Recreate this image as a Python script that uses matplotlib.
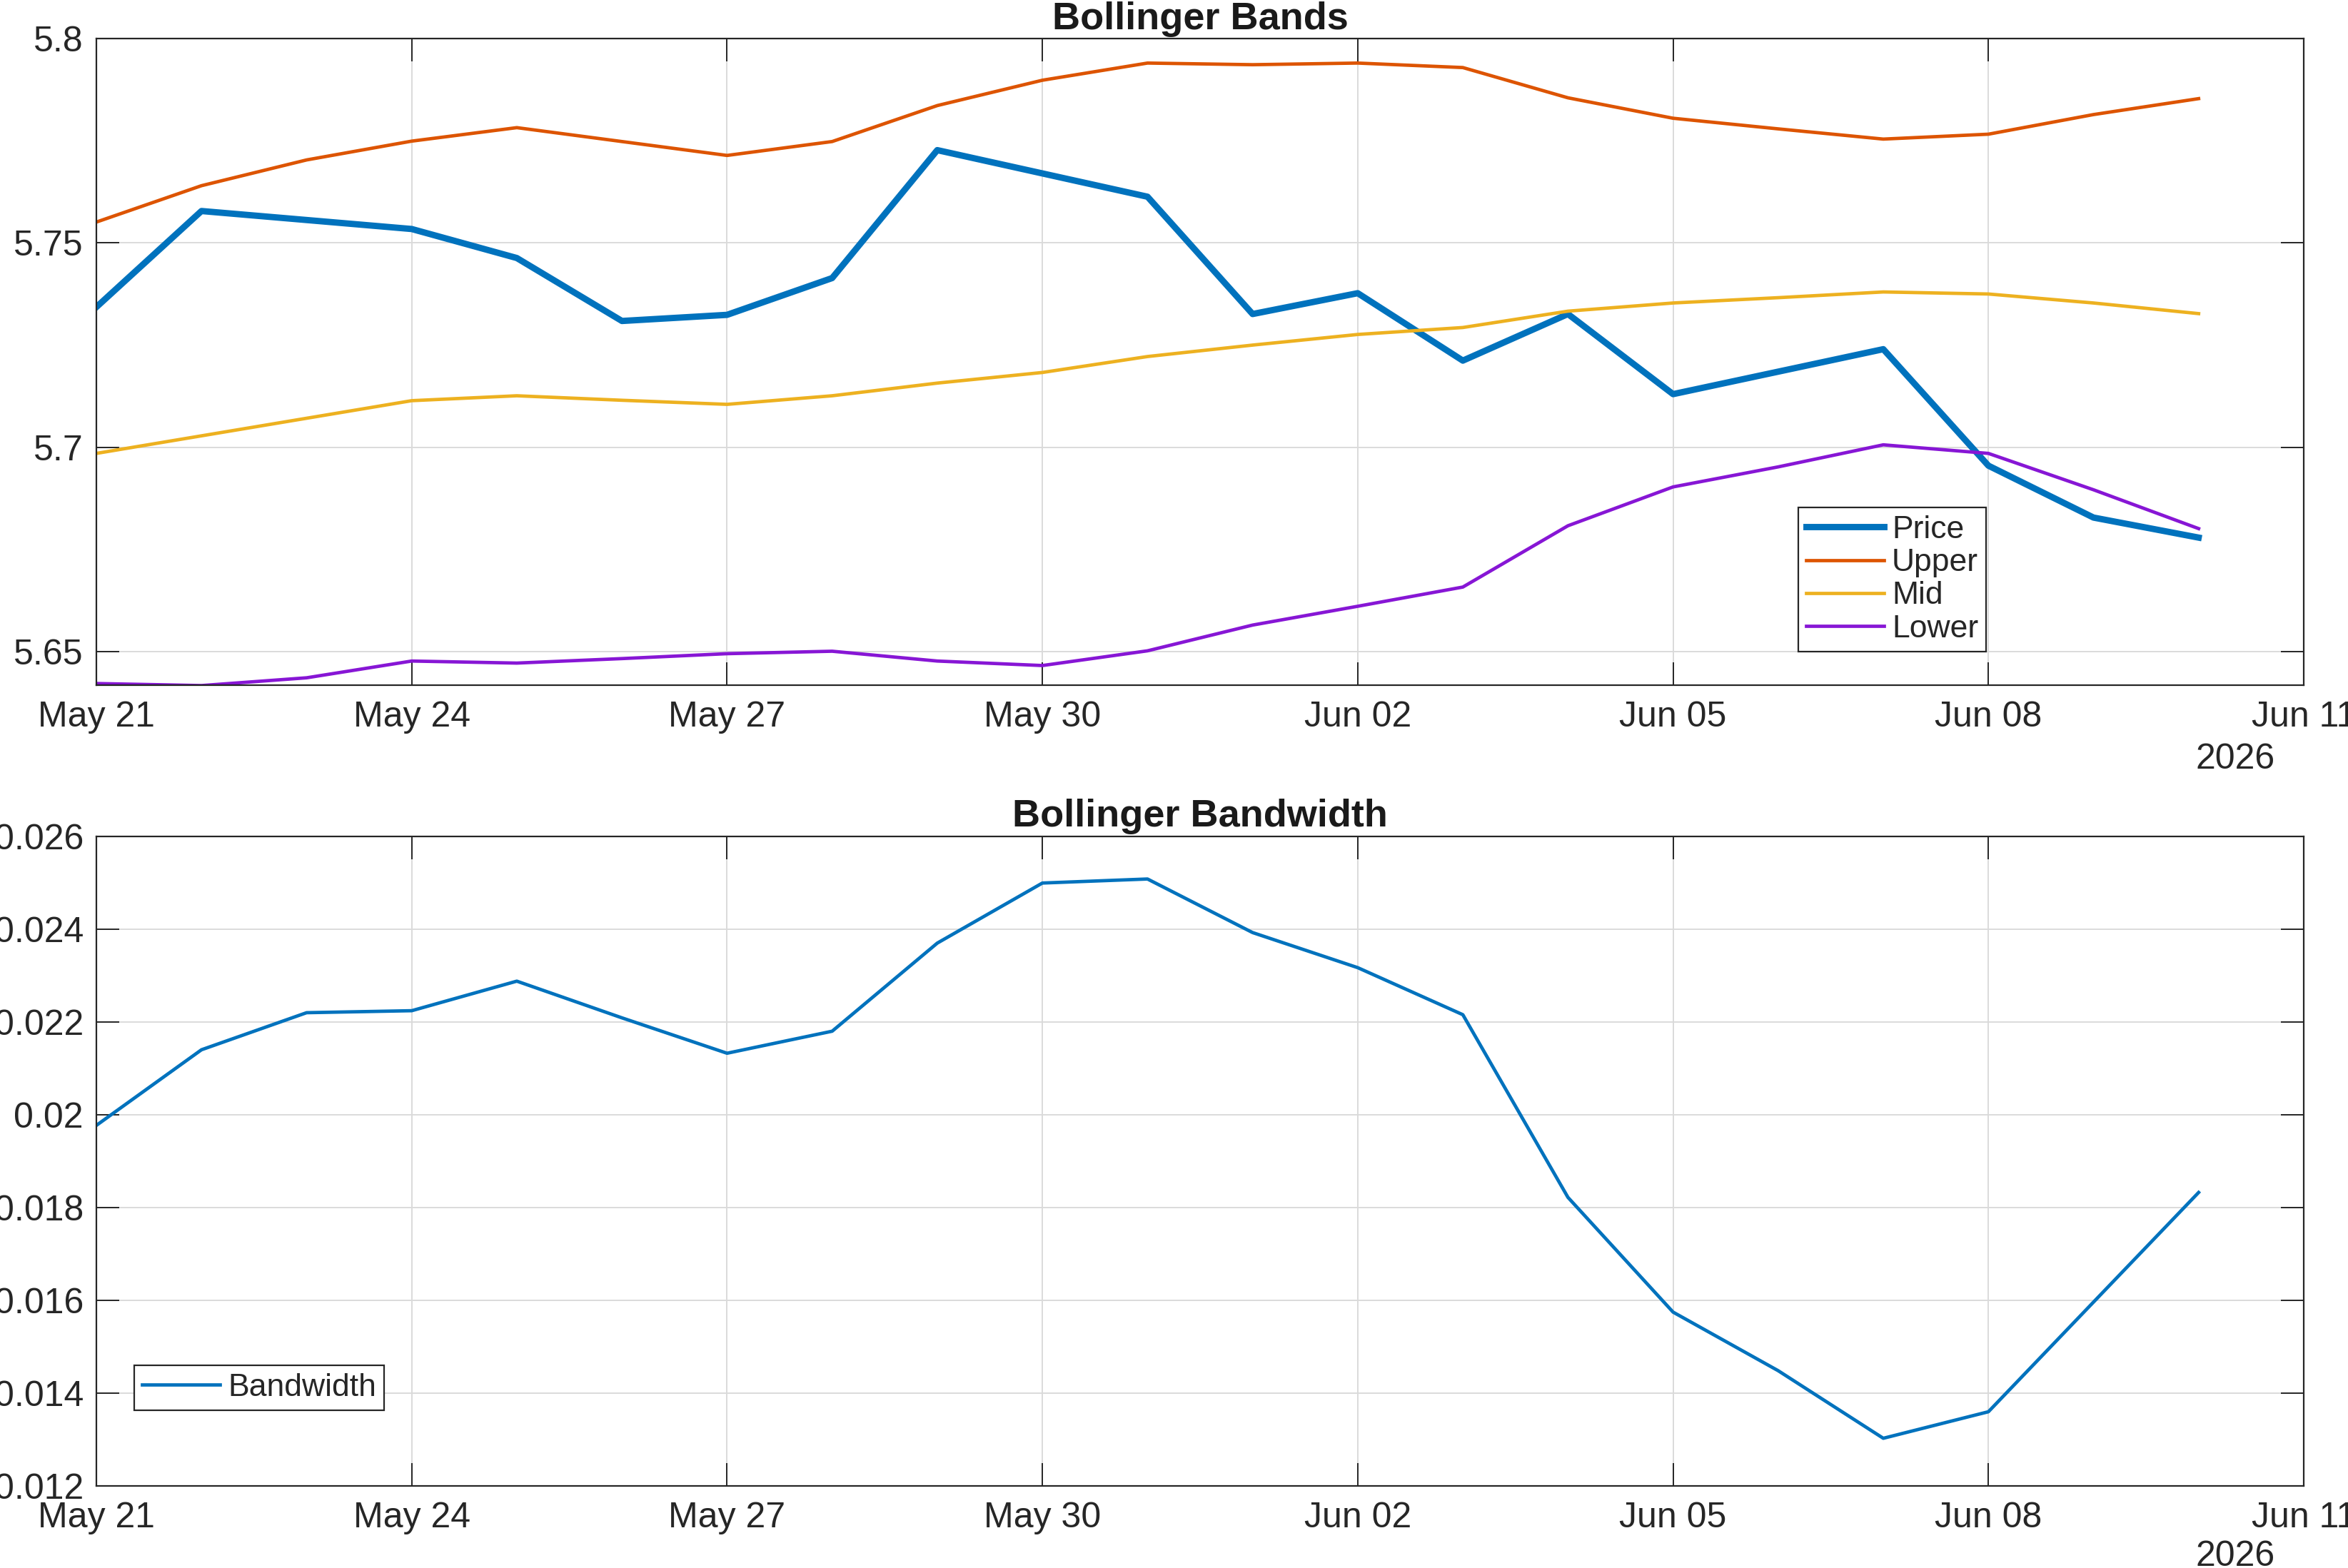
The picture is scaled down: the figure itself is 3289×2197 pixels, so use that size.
import matplotlib
matplotlib.use('Agg')
import matplotlib.pyplot as plt
import matplotlib.dates as mdates
from matplotlib.ticker import FormatStrFormatter
import numpy as np
import pandas as pd

plt.rcParams['font.family'] = ['Liberation Sans', 'DejaVu Sans']

dates = pd.date_range('2026-05-21', '2026-06-10', freq='D')

price = [5.7343, 5.7578, 5.7556, 5.7534, 5.7463, 5.7309, 5.7324, 5.7414, 5.7727, 5.7670, 5.7613,
         5.7326, 5.7377, 5.7212, 5.7326, 5.7130, 5.7185, 5.7240, 5.6955, 5.6828, 5.6779]
upper = [5.7551, 5.7640, 5.7703, 5.7749, 5.7782, 5.7748, 5.7714, 5.7748, 5.7836, 5.7898, 5.7940,
         5.7936, 5.7940, 5.7929, 5.7855, 5.7805, 5.7779, 5.7754, 5.7766, 5.7814, 5.7853]
mid = [5.6985, 5.7028, 5.7071, 5.7114, 5.7126, 5.7115, 5.7105, 5.7126, 5.7157, 5.7183, 5.7222,
       5.7250, 5.7276, 5.7293, 5.7333, 5.7353, 5.7366, 5.7380, 5.7375, 5.7353, 5.7327]
lower = [5.6422, 5.6417, 5.6436, 5.6477, 5.6472, 5.6483, 5.6495, 5.6501, 5.6477, 5.6466, 5.6502,
         5.6565, 5.6611, 5.6658, 5.6808, 5.6903, 5.6952, 5.7006, 5.6985, 5.6896, 5.6801]
bandwidth = [0.019772, 0.021402, 0.022201, 0.022244, 0.022881, 0.022090, 0.021327, 0.021802,
             0.023701, 0.024996, 0.025083, 0.023928, 0.023172, 0.022158, 0.018220, 0.015747,
             0.014484, 0.013027, 0.013599, 0.015963, 0.018326]

c_blue = '#0072BD'
c_orange = '#DD5400'
c_yellow = '#EDB120'
c_purple = '#8716D5'
txt = '#262626'

W, H = 3289, 2197
fig = plt.figure(figsize=(W / 200, H / 200), dpi=200)

ax1 = fig.add_axes([135 / W, 1 - 960 / H, 3092 / W, 906 / H])
ax2 = fig.add_axes([135 / W, 1 - 2082 / H, 3092 / W, 910 / H])


def style_axes(ax, yr_off):
    ax.set_xlim(pd.Timestamp('2026-05-21'), pd.Timestamp('2026-06-11'))
    ax.set_xticks(pd.date_range('2026-05-21', '2026-06-11', freq='3D'))
    ax.xaxis.set_major_formatter(mdates.DateFormatter('%b %d'))
    ax.grid(True, color='#DADADA', linewidth=0.7)
    ax.set_axisbelow(True)
    ax.tick_params(direction='in', length=11.4, width=0.7, colors=txt,
                   top=True, right=True, labelsize=18)
    ax.tick_params(axis='y', pad=6.5)
    ax.tick_params(axis='x', pad=8)
    for s in ax.spines.values():
        s.set_color(txt)
        s.set_linewidth(0.8)
    ax.yaxis.set_major_formatter(FormatStrFormatter('%g'))
    ax.annotate('2026', xy=(0.987, 0), xycoords='axes fraction',
                xytext=(0, yr_off), textcoords='offset points',
                ha='right', va='top', fontsize=18, color=txt)


# upper panel
ax1.plot(dates, price, color=c_blue, linewidth=3.2, label='Price')
ax1.plot(dates, upper, color=c_orange, linewidth=1.7, label='Upper')
ax1.plot(dates, mid, color=c_yellow, linewidth=1.7, label='Mid')
ax1.plot(dates, lower, color=c_purple, linewidth=1.7, label='Lower')
style_axes(ax1, -29.3)
ax1.set_ylim(5.6418, 5.8)
ax1.set_yticks([5.65, 5.7, 5.75, 5.8])
ax1.set_title('Bollinger Bands', fontsize=19.5, fontweight='bold', color='#1a1a1a', pad=4.5)
leg1 = ax1.legend(loc='lower left', bbox_to_anchor=(0.771, 0.052), borderaxespad=0,
                  fontsize=16, fancybox=False, framealpha=1, edgecolor=txt,
                  handlelength=2.45, handletextpad=0.25, labelspacing=0.12,
                  borderpad=0.25)
leg1.get_frame().set_linewidth(0.8)
for t in leg1.get_texts():
    t.set_color(txt)

# lower panel
ax2.plot(dates, bandwidth, color=c_blue, linewidth=1.7, label='Bandwidth')
style_axes(ax2, -27.5)
ax2.set_ylim(0.012, 0.026)
ax2.set_yticks(np.arange(0.012, 0.0261, 0.002))
ax2.set_title('Bollinger Bandwidth', fontsize=19.5, fontweight='bold', color='#1a1a1a', pad=5)
leg2 = ax2.legend(loc='lower left', bbox_to_anchor=(0.0171, 0.1165), borderaxespad=0,
                  fontsize=16, fancybox=False, framealpha=1, edgecolor=txt,
                  handlelength=2.45, handletextpad=0.25, borderpad=0.25)
leg2.get_frame().set_linewidth(0.8)
for t in leg2.get_texts():
    t.set_color(txt)

fig.savefig('out.png', dpi=200, facecolor='white')
